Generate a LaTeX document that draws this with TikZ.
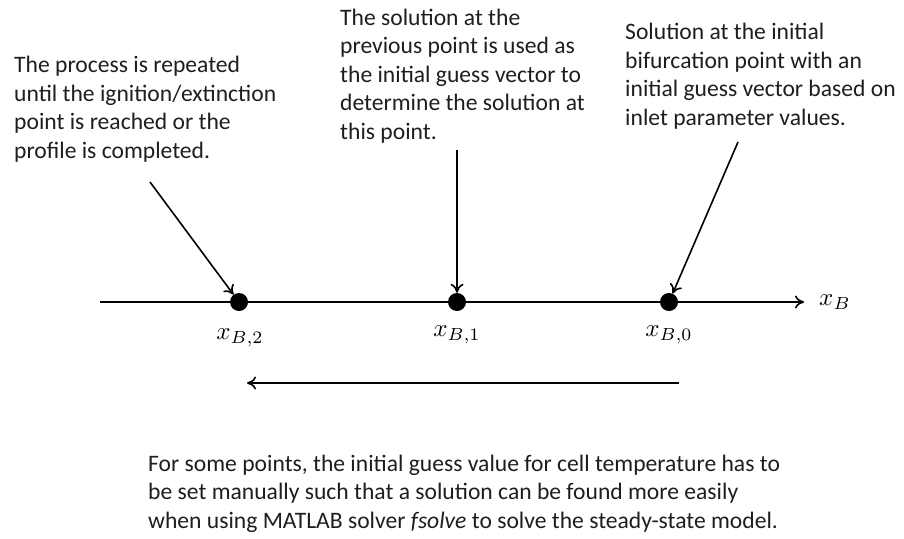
\documentclass[tikz,border=0pt]{standalone}
\usepackage{amsmath}
\usepackage{graphicx}
\usepackage{fontspec}
\setmainfont{Carlito}
\usetikzlibrary{arrows.meta, positioning}
\definecolor{textgray}{RGB}{30,30,30}

\newcommand{\bigmath}[1]{\scalebox{2.5}{$#1$}}

\tikzset{
    note/.style={font=\fontsize{23.6}{28.5}\selectfont, text=textgray, align=left, inner sep=0pt, anchor=base west},
    dot/.style={circle, fill=black, minimum size=18pt, inner sep=0pt},
    mlabel/.style={inner sep=0pt},
    arr/.style={line width=1.6pt, -{To[length=9pt, width=13pt, line width=1.6pt]}}
}

\begin{document}
\begin{tikzpicture}[x=1pt, y=-1pt]
    \useasboundingbox (0,0) rectangle (904,538);

    % Axis
    \coordinate (axstart) at (100,302);
    \coordinate (axend) at (804,302);
    \draw[arr] (axstart) -- (axend);
    \node[mlabel, anchor=west] (xb) at (819,302) {\bigmath{x_B}};

    % Points on the axis
    \node[dot] (p2) at (239,302) {};
    \node[dot] (p1) at (457,302) {};
    \node[dot] (p0) at (669,302) {};
    \node[mlabel] (l2) at (240,338) {\bigmath{x_{B,2}}};
    \node[mlabel] (l1) at (457,335) {\bigmath{x_{B,1}}};
    \node[mlabel] (l0) at (669,335) {\bigmath{x_{B,0}}};

    % Direction of continuation
    \coordinate (dirstart) at (679,383);
    \coordinate (dirend) at (247,383);
    \draw[arr] (dirstart) -- (dirend);

    % Notes (placed by the baseline of their last line)
    \node[note] (nleft) at (14,158) {The process is repeated\\until the ignition/extinction\\point is reached or the\\profile is completed.};
    \node[note] (nmid) at (340,139) {The solution at the\\previous point is used as\\the initial guess vector to\\determine the solution at\\this point.};
    \node[note] (nright) at (625,125) {Solution at the initial\\bifurcation point with an\\initial guess vector based on\\inlet parameter values.};
    \node[note] (nbot) at (148,528) {For some points, the initial guess value for cell temperature has to\\be set manually such that a solution can be found more easily\\when using MATLAB solver \textit{fsolve} to solve the steady-state model.};

    % Pointers from the notes
    \coordinate (sleft) at (150,182);
    \coordinate (smid) at (457,150);
    \coordinate (sright) at (738,142);
    \draw[arr] (sleft) -- (p2);
    \draw[arr] (smid) -- (p1);
    \draw[arr] (sright) -- (p0);
\end{tikzpicture}
\end{document}
